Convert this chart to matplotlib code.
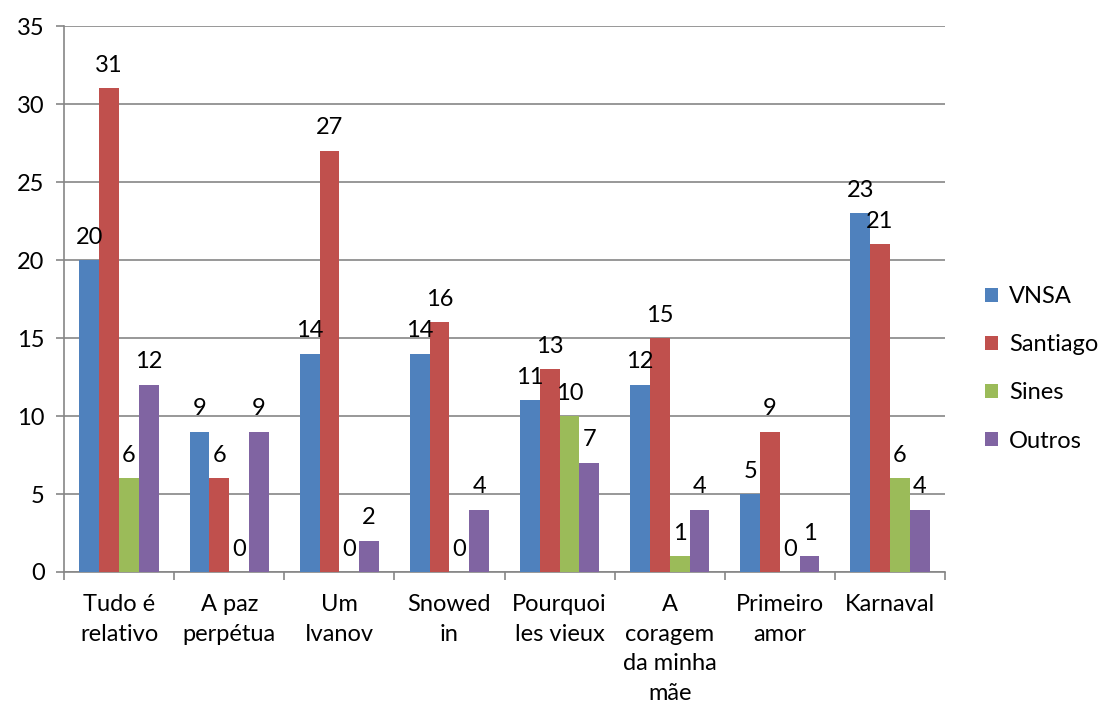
import matplotlib
matplotlib.use("Agg")
import matplotlib.pyplot as plt
import numpy as np

categories = ["Tudo é\nrelativo", "A paz\nperpétua", "Um\nIvanov", "Snowed\nin",
              "Pourquoi\nles vieux", "A\ncoragem\nda minha\nmãe", "Primeiro\namor", "Karnaval"]
series_names = ["VNSA", "Santiago", "Sines", "Outros"]
vnsa = [20, 9, 14, 14, 11, 12, 5, 23]
santiago = [31, 6, 27, 16, 13, 15, 9, 21]
sines = [6, 0, 0, 0, 10, 1, 0, 6]
outros = [12, 9, 2, 4, 7, 4, 1, 4]
colors = ["#4F81BD", "#C0504D", "#9BBB59", "#8064A2"]

plt.rcParams['font.family'] = ['Lato', 'DejaVu Sans']
FS = 17
fig = plt.figure(figsize=(11.04, 7.15), dpi=100)
ax = fig.add_axes([0.058, 0.2, 0.798, 0.7636])

x = np.arange(len(categories))
bw = 0.18
data = [vnsa, santiago, sines, outros]
for i, (name, vals, c) in enumerate(zip(series_names, data, colors)):
    pos = x + (i - 1.5) * bw
    ax.bar(pos, vals, width=bw, color=c, label=name, zorder=3)
    for px, v in zip(pos, vals):
        ax.annotate(str(v), (px, v), xytext=(0, 9), textcoords="offset points",
                    ha="center", va="bottom", fontsize=FS, color="black", zorder=4)

ax.set_xlim(-0.5, len(categories) - 0.5)
ax.set_ylim(0, 35)
ax.set_yticks(range(0, 36, 5))
ax.yaxis.grid(True, color="#868686", linewidth=1.2, zorder=0)
ax.set_axisbelow(True)
for s in ["top", "right"]:
    ax.spines[s].set_visible(False)
for s in ["left", "bottom"]:
    ax.spines[s].set_color("#868686")
    ax.spines[s].set_linewidth(1.2)

ax.set_xticks(np.arange(-0.5, len(categories), 1.0))
ax.set_xticklabels([])
ax.set_xticks(x, minor=True)
ax.set_xticklabels(categories, minor=True, fontsize=FS, linespacing=1.5)
ax.tick_params(axis="x", which="minor", length=0, pad=16)
ax.tick_params(axis="x", which="major", length=6, color="#868686", width=1.2)
ax.tick_params(axis="y", length=6, color="#868686", width=1.2, labelsize=FS, pad=8)
for lbl in ax.get_xticklabels(minor=True):
    lbl.set_verticalalignment("top")

leg = ax.legend(loc="center left", bbox_to_anchor=(1.035, 0.372), frameon=False,
                fontsize=FS, handlelength=0.55, handleheight=0.55, labelspacing=1.15,
                handletextpad=0.45, borderaxespad=0.0)

fig.savefig("out.png", dpi=100)
